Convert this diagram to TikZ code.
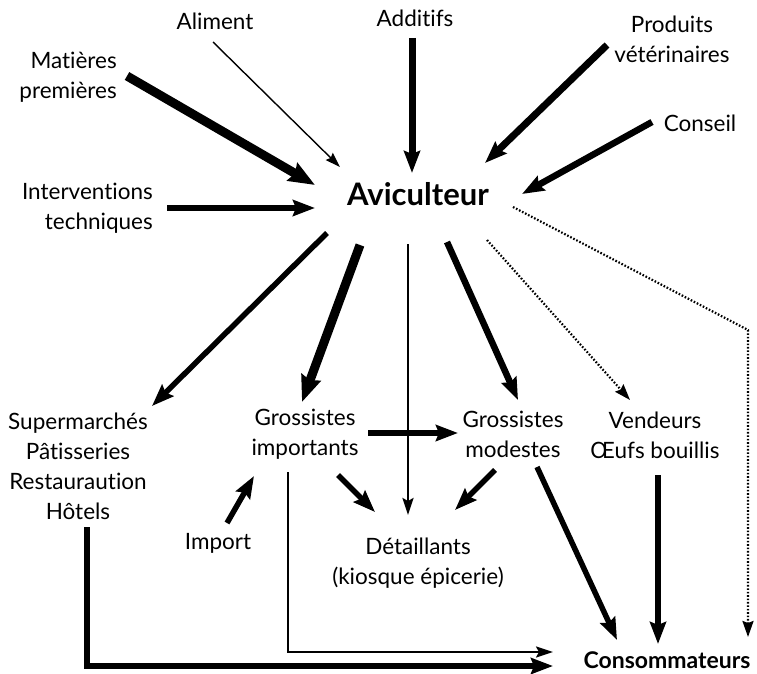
\documentclass[tikz,border=0pt]{standalone}
\usepackage{fontspec}
\setmainfont[Ligatures=NoCommon]{Lato}
\usetikzlibrary{arrows.meta}
\begin{document}
\begin{tikzpicture}[x=1pt,y=-1pt,
  lbl/.style={font=\fontsize{22.5}{30}\selectfont, inner sep=1pt, align=center},
  thinar/.style={line width=1.4pt, -{Stealth[length=15pt,width=10pt,inset=2pt]}},
  midar/.style={line width=2.4pt, -{Stealth[length=17pt,width=11pt,inset=3pt]}},
  thickar/.style={line width=5.5pt, -{Stealth[length=22pt,width=16pt,inset=3pt]}},
  vthickar/.style={line width=9pt, -{Stealth[length=26pt,width=20pt,inset=3pt]}},
  dotar/.style={line width=2.2pt, dash pattern=on 1.6pt off 1.8pt, -{Stealth[length=16pt,width=11pt,inset=2pt]}}]
\useasboundingbox (0,0) rectangle (757,674);
% nodes
\node[lbl] (alim) at (215,21) {Aliment};
\node[lbl] (add) at (415,18) {Additifs};
\node[lbl] (prod) at (672,39) {Produits\\vétérinaires};
\node[lbl, align=right, anchor=east] (mat) at (118,77) {Matières\\premières};
\node[lbl] (cons) at (700,123) {Conseil};
\node[font=\fontsize{31}{34}\selectfont\bfseries, inner sep=1pt] (avi) at (418,194) {Aviculteur};
\node[lbl, align=right, anchor=east] (int) at (154,208) {Interventions\\techniques};
\node[lbl] (sup) at (78,466) {Supermarchés\\Pâtisseries\\Restauraution\\Hôtels};
\node[lbl] (gi) at (305,434) {Grossistes\\importants};
\node[lbl] (gm) at (513,434) {Grossistes\\modestes};
\node[lbl] (vend) at (655,435) {Vendeurs\\Œufs bouillis};
\node[lbl] (imp) at (218,543) {Import};
\node[lbl] (det) at (418,563) {Détaillants\\(kiosque épicerie)};
\node[font=\fontsize{23}{26}\selectfont\bfseries, inner sep=1pt] (conso) at (667,660) {Consommateurs};
% endpoints
\coordinate (alimS) at (213,42); \coordinate (alimE) at (340,167);
\coordinate (matS) at (127,76); \coordinate (matE) at (315,185);
\coordinate (intS) at (167,208); \coordinate (intE) at (315,208);
\coordinate (addS) at (412,38); \coordinate (addE) at (412,173);
\coordinate (prodS) at (607,45); \coordinate (prodE) at (485,163);
\coordinate (consS) at (652,122); \coordinate (consE) at (522,194);
\coordinate (d1S) at (513,207); \coordinate (d1M) at (748,330); \coordinate (d1E) at (748,637);
\coordinate (d2S) at (487,240); \coordinate (d2E) at (630,400);
\coordinate (supS) at (327,233); \coordinate (supE) at (152,406);
\coordinate (giS) at (360,245); \coordinate (giE) at (302,402);
\coordinate (vS) at (408,244); \coordinate (vE) at (408,515);
\coordinate (gmS) at (447,242); \coordinate (gmE) at (518,400);
\coordinate (gigmS) at (368,433); \coordinate (gigmE) at (458,433);
\coordinate (gidS) at (338,475); \coordinate (gidE) at (375,512);
\coordinate (gmdS) at (495,470); \coordinate (gmdE) at (455,510);
\coordinate (impS) at (227,523); \coordinate (impE) at (254,476);
\coordinate (gmcS) at (537,467); \coordinate (gmcE) at (617,640);
\coordinate (vcS) at (658,475); \coordinate (vcE) at (658,644);
\coordinate (giB) at (288,472); \coordinate (giC) at (288,652); \coordinate (giT) at (553,652);
\coordinate (hB) at (87,527); \coordinate (hC) at (87,666); \coordinate (hT) at (553,666);
% arrows
\draw[thinar] (alimS) -- (alimE);
\draw[vthickar] (matS) -- (matE);
\draw[thickar] (intS) -- (intE);
\draw[thickar, line width=7pt] (addS) -- (addE);
\draw[thickar, line width=7pt] (prodS) -- (prodE);
\draw[thickar, line width=6.5pt] (consS) -- (consE);
\draw[dotar] (d1S) -- (d1M) -- (d1E);
\draw[dotar] (d2S) -- (d2E);
\draw[thickar] (supS) -- (supE);
\draw[vthickar] (giS) -- (giE);
\draw[midar] (vS) -- (vE);
\draw[thickar, line width=6.5pt] (gmS) -- (gmE);
\draw[thickar] (gigmS) -- (gigmE);
\draw[thickar] (gidS) -- (gidE);
\draw[thickar] (gmdS) -- (gmdE);
\draw[thickar] (impS) -- (impE);
\draw[thickar] (gmcS) -- (gmcE);
\draw[thickar] (vcS) -- (vcE);
\draw[midar, line width=2.2pt, line join=miter] (giB) -- (giC) -- (giT);
\draw[thickar, line join=miter] (hB) -- (hC) -- (hT);
\end{tikzpicture}
\end{document}
